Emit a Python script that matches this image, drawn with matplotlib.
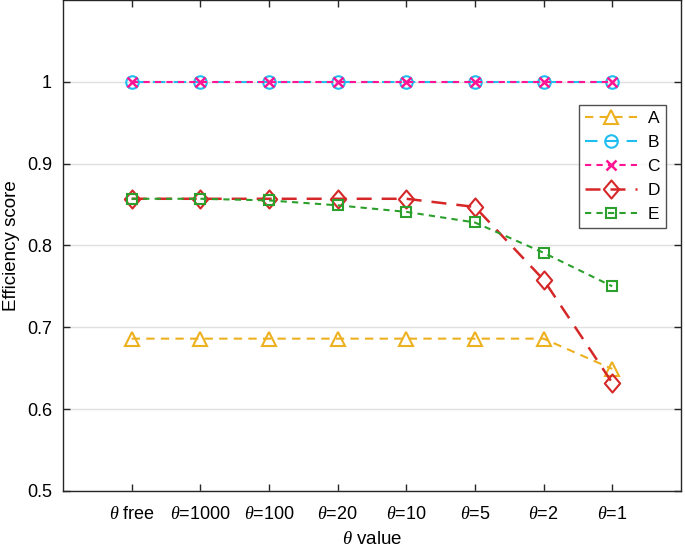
import matplotlib
matplotlib.use("Agg")
import matplotlib.pyplot as plt
from matplotlib.path import Path

plt.rcParams['font.family'] = ['Liberation Sans', 'DejaVu Sans']
plt.rcParams['mathtext.fontset'] = 'custom'
plt.rcParams['mathtext.it'] = 'Liberation Serif:italic'
plt.rcParams['mathtext.rm'] = 'Liberation Sans'

labels = [r'$\theta$ free', r'$\theta$=1000', r'$\theta$=100', r'$\theta$=20',
          r'$\theta$=10', r'$\theta$=5', r'$\theta$=2', r'$\theta$=1']
x = list(range(1, 9))

series_a = [0.686, 0.686, 0.686, 0.686, 0.686, 0.686, 0.686, 0.649]
series_b = [1.0, 1.0, 1.0, 1.0, 1.0, 1.0, 1.0, 1.0]
series_c = [1.0, 1.0, 1.0, 1.0, 1.0, 1.0, 1.0, 1.0]
series_d = [0.857, 0.857, 0.857, 0.857, 0.857, 0.847, 0.758, 0.632]
series_e = [0.857, 0.857, 0.855, 0.849, 0.841, 0.828, 0.791, 0.750]

# slightly narrow diamond, like matlab's 'd'
diamond = Path([(0, 1), (0.85, 0), (0, -1), (-0.85, 0), (0, 1)],
               [Path.MOVETO, Path.LINETO, Path.LINETO, Path.LINETO, Path.CLOSEPOLY])

fig = plt.figure(figsize=(6.85, 5.49), dpi=100)
ax = fig.add_axes([0.092, 0.106, 0.902, 0.894])

ax.plot(x, series_a, color='#EDB120', linestyle=(0, (4, 3)), lw=1.5,
        marker='^', ms=10, mfc='none', mew=1.5, label='A')
ax.plot(x, series_b, color='#1EBEF0', linestyle=(0, (6, 4)), lw=1.5,
        marker='o', ms=9, mfc='none', mew=1.5, label='B')
ax.plot(x, series_c, color='#FF1493', linestyle=(0, (3, 2.5)), lw=1.5,
        marker='x', ms=7, mfc='none', mew=1.8, label='C')
ax.plot(x, series_d, color='#D62728', linestyle=(0, (6, 4)), lw=1.8,
        marker=diamond, ms=13, mfc='none', mew=1.5, label='D')
ax.plot(x, series_e, color='#2CA02C', linestyle=(0, (3, 2.5)), lw=1.5,
        marker='s', ms=7, mfc='none', mew=1.5, label='E')

ax.set_xlim(0, 9)
ax.set_ylim(0.5, 1.1)
ax.set_xticks(x)
ax.set_xticklabels(labels)
ax.set_yticks([0.5, 0.6, 0.7, 0.8, 0.9, 1.0])
ax.set_yticklabels(['0.5', '0.6', '0.7', '0.8', '0.9', '1'])
ax.tick_params(direction='in', length=5, width=1, labelsize=13, color='#262626',
               right=True, top=True)
ax.tick_params(axis='x', pad=11)
ax.tick_params(axis='y', pad=8)
ax.grid(axis='y', color='#e0e0e0', lw=1)
ax.set_axisbelow(True)
for s in ax.spines.values():
    s.set_color('#262626')
    s.set_linewidth(1)

ax.set_xlabel(r'$\theta$ value', fontsize=13.5, labelpad=6)
ax.set_ylabel('Efficiency score', fontsize=13.5, labelpad=5)

leg = ax.legend(loc='upper right', bbox_to_anchor=(0.976, 0.786), fontsize=12.5,
                frameon=True, fancybox=False, edgecolor='#262626',
                borderaxespad=0, handlelength=3, borderpad=0.35,
                labelspacing=0.5, handletextpad=0.6)
leg.get_frame().set_linewidth(1)

fig.savefig('out.png', dpi=100)
